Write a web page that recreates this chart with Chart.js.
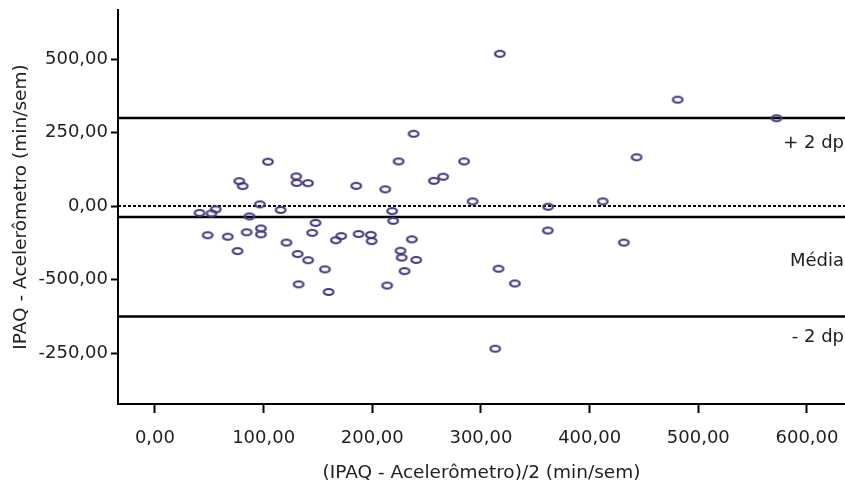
<!DOCTYPE html>
<html>
<head>
<meta charset="utf-8">
<script src="https://cdn.jsdelivr.net/npm/chart.js@4"></script>
<style>
  html, body { margin: 0; padding: 0; background: #fff; }
  #wrap { width: 845px; height: 488px; }
</style>
</head>
<body>
<div id="wrap"><canvas id="chart"></canvas></div>
<script>
// ── Data ──────────────────────────────────────────────────
const meanX = [41, 52, 56, 48.5, 67, 76, 77.6, 80.7, 87, 84.4, 96.6, 97.5, 97.5, 104, 115.6,
               121, 130, 130.4, 140.8, 131.3, 141, 132.2, 147.8, 144.7, 156.4, 159.8, 166.5, 171.4,
               185.2, 187.4, 198.7, 199.4, 211.9, 218.3, 219.2, 213.7, 224.2, 238, 226, 227,
               229.7, 236.4, 240.4, 256.7, 265.2, 284.5, 292.3, 317.4, 481, 572, 443.2, 361.8,
               412.1, 361.5, 431.5, 316.2, 331.2, 313.1];
const diffY = [-23, -25, -11, -99, -104, -153, 85, 68, -35, -89, 6, -76, -96, 151, -13,
               -124, 101, 79, 78, -163, -184, -266, -57, -91, -215, -292, -116, -102,
               69, -95, -98, -119, 57, -17, -50, -270, 152, 246, -152, -175,
               -221, -113, -183, 86, 100, 152, 16, 518, 362, 299, 166, -2,
               16, -83, -124, -213, -263, -485];

const zeroLine  = 0;
const meanLine  = -37;
const upperLine = 300;
const lowerLine = -375;

const xMin = -34, xMax = 635;
const yMin = -673, yMax = 667;

const xTicks  = [0, 100, 200, 300, 400, 500, 600];
const xLabels = ['0,00', '100,00', '200,00', '300,00', '400,00', '500,00', '600,00'];
const yTicks  = [500, 250, 0, -250, -500];
const yLabels = ['500,00', '250,00', '0,00', '-500,00', '-250,00'];

const noteText = ['+ 2 dp', 'Média', '- 2 dp'];
const noteY    = [214, -187, -446];

// ── Ellipse marker ────────────────────────────────────────
const marker = document.createElement('canvas');
marker.width = 14; marker.height = 10;
const mctx = marker.getContext('2d');
mctx.strokeStyle = '#413c80';
mctx.lineWidth = 2.2;
mctx.beginPath();
mctx.ellipse(7, 5, 4.8, 3, 0, 0, Math.PI * 2);
mctx.stroke();

function hline(y, dash, width) {
    return {
        type: 'line',
        data: [{ x: xMin, y: y }, { x: xMax, y: y }],
        borderColor: '#000',
        borderWidth: width,
        borderDash: dash,
        pointRadius: 0,
        fill: false,
        order: 2
    };
}

const notes = {
    id: 'notes',
    afterDatasetsDraw(chart) {
        const { ctx, chartArea, scales } = chart;
        ctx.save();
        ctx.fillStyle = '#222';
        ctx.font = '18px "DejaVu Sans"';
        ctx.textAlign = 'right';
        ctx.textBaseline = 'middle';
        noteText.forEach((t, i) => ctx.fillText(t, chartArea.right - 1, scales.y.getPixelForValue(noteY[i])));
        ctx.restore();
    }
};

const font = { family: '"DejaVu Sans"', size: 18 };
const titleFont = { family: '"DejaVu Sans"', size: 18.5 };

new Chart(document.getElementById('chart'), {
    type: 'scatter',
    data: {
        datasets: [
            {
                data: meanX.map((x, i) => ({ x: x, y: diffY[i] })),
                pointStyle: marker,
                pointRadius: 5,
                order: 1
            },
            hline(zeroLine,  [3, 2], 2),
            hline(meanLine,  [], 2.5),
            hline(upperLine, [], 2.5),
            hline(lowerLine, [], 2.5)
        ]
    },
    options: {
        responsive: true,
        maintainAspectRatio: false,
        animation: false,
        layout: { autoPadding: false, padding: { top: 10, right: 0 } },
        plugins: { legend: { display: false }, tooltip: { enabled: false } },
        scales: {
            x: {
                type: 'linear',
                min: xMin, max: xMax,
                afterBuildTicks: s => { s.ticks = xTicks.map(v => ({ value: v })); },
                afterFit: s => { s.height = 84; s.paddingLeft = 0; s.paddingRight = 0; },
                ticks: {
                    color: '#222', font: font, padding: 15, maxRotation: 0,
                    callback: v => xLabels[xTicks.indexOf(v)]
                },
                grid: { drawOnChartArea: false, drawTicks: true, tickLength: 9, tickWidth: 2, tickColor: '#000' },
                border: { display: true, color: '#000', width: 2 },
                title: { display: true, text: '(IPAQ - Acelerômetro)/2 (min/sem)', color: '#222', font: titleFont, padding: { top: 6 } }
            },
            y: {
                type: 'linear',
                min: yMin, max: yMax,
                afterBuildTicks: s => { s.ticks = yTicks.map(v => ({ value: v })); },
                afterFit: s => { s.width = 118; s.paddingTop = 0; s.paddingBottom = 0; },
                ticks: {
                    color: '#222', font: font, padding: 3,
                    callback: v => yLabels[yTicks.indexOf(v)]
                },
                grid: { drawOnChartArea: false, drawTicks: true, tickLength: 7, tickWidth: 2, tickColor: '#000' },
                border: { display: true, color: '#000', width: 2 },
                title: { display: true, text: 'IPAQ - Acelerômetro (min/sem)', color: '#222', font: titleFont, padding: { top: 10, bottom: 0 } }
            }
        }
    },
    plugins: [notes]
});
</script>
</body>
</html>
